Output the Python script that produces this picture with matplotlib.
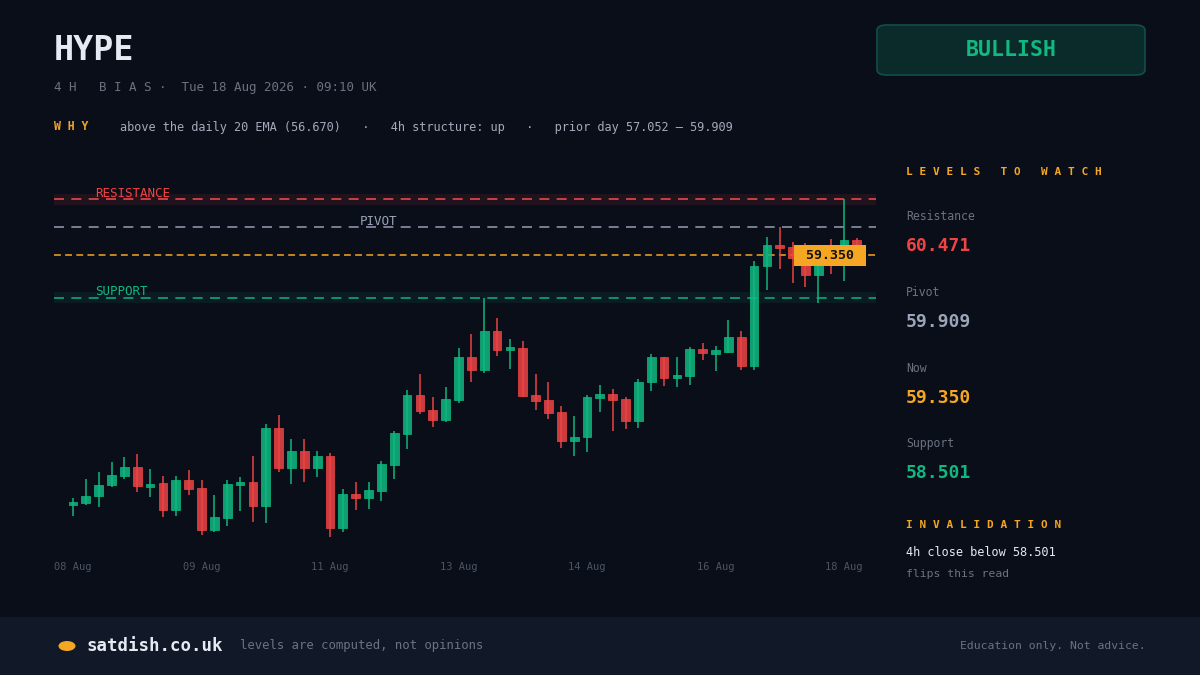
import matplotlib
matplotlib.use("Agg")
import matplotlib.pyplot as plt
from matplotlib.patches import FancyBboxPatch, Rectangle, Ellipse

plt.rcParams['font.family'] = ['DejaVu Sans Mono', 'DejaVu Sans']

# --- data (4h candles) ---
symbol = "HYPE"
bias = "BULLISH"
stamp = "Tue 18 Aug 2026 · 09:10 UK"
why = "above the daily 20 EMA (56.670)   ·   4h structure: up   ·   prior day 57.052 – 59.909"

opens = [54.371, 54.391, 54.531, 54.751, 54.931, 55.112, 54.731, 54.791, 54.251, 54.851,
         54.691, 53.850, 54.091, 54.751, 54.811, 54.331, 55.892, 55.092, 55.432, 55.092,
         55.332, 53.890, 54.571, 54.491, 54.631, 55.152, 55.772, 56.553, 56.253, 56.053,
         56.453, 57.314, 57.054, 57.834, 57.454, 57.494, 56.553, 56.453, 56.213, 55.632,
         55.712, 56.493, 56.573, 56.473, 56.033, 56.813, 57.314, 56.893, 56.933, 57.474,
         57.374, 57.414, 57.714, 57.134, 59.136, 59.556, 59.516, 59.416, 58.955, 59.516,
         59.396, 59.656]
highs = [54.491, 54.871, 55.012, 55.212, 55.312, 55.372, 55.072, 54.931, 54.931, 55.052,
         54.851, 54.551, 54.851, 54.911, 55.332, 55.973, 56.153, 55.672, 55.672, 55.432,
         55.392, 54.671, 54.811, 54.811, 55.232, 55.832, 56.653, 56.974, 56.513, 56.713,
         57.494, 57.774, 58.501, 58.095, 57.674, 57.634, 56.974, 56.813, 56.333, 56.133,
         56.553, 56.753, 56.673, 56.513, 56.873, 57.374, 57.314, 57.314, 57.514, 57.594,
         57.534, 58.055, 57.834, 59.236, 59.716, 59.917, 59.616, 59.596, 59.456, 59.676,
         60.471, 59.696]
lows = [54.131, 54.351, 54.311, 54.711, 54.871, 54.611, 54.511, 54.111, 54.131, 54.551,
        53.750, 53.810, 53.930, 54.231, 54.011, 53.991, 55.012, 54.771, 54.811, 54.911,
        53.710, 53.810, 54.251, 54.271, 54.431, 54.871, 55.472, 56.173, 55.912, 56.013,
        56.393, 56.813, 56.994, 57.334, 57.074, 56.513, 56.253, 56.073, 55.492, 55.332,
        55.412, 56.213, 55.832, 55.872, 55.892, 56.633, 56.733, 56.713, 56.753, 57.254,
        57.034, 57.394, 57.054, 57.054, 58.655, 59.076, 58.795, 58.715, 58.395, 58.976,
        58.835, 59.216]
closes = [54.391, 54.531, 54.751, 54.951, 55.112, 54.731, 54.771, 54.251, 54.851, 54.671,
          53.850, 54.111, 54.771, 54.811, 54.331, 55.892, 55.092, 55.432, 55.092, 55.332,
          53.890, 54.571, 54.491, 54.651, 55.172, 55.792, 56.553, 56.233, 56.053, 56.473,
          57.314, 57.054, 57.834, 57.454, 57.494, 56.533, 56.433, 56.193, 55.632, 55.712,
          56.513, 56.573, 56.453, 56.033, 56.813, 57.314, 56.893, 56.953, 57.474, 57.394,
          57.454, 57.714, 57.134, 59.136, 59.556, 59.496, 59.296, 58.955, 59.296, 59.396,
          59.656, 59.350]

tick_idx = [0, 10, 20, 30, 40, 50, 60]
tick_labels = ["08 Aug", "09 Aug", "11 Aug", "13 Aug", "14 Aug", "16 Aug", "18 Aug"]

resistance = 60.471
pivot = 59.909
now = 59.350
support = 58.501
invalidation = 58.501

# --- colours ---
BG = '#0a0e19'
FOOT = '#111827'
GREEN = '#10b981'
RED = '#ef4444'
ORANGE = '#f5a623'
GREY = '#6b7280'
PIVOT_C = '#9aa5b8'
WHITE = '#e6eaf2'

W, H = 1200, 675


def fx(x):
    return x / W


def fy(y):
    return 1 - y / H


fig = plt.figure(figsize=(12, 6.75), dpi=100, facecolor=BG)

# footer band
fig.patches.append(Rectangle((0, 0), 1, fy(617), transform=fig.transFigure,
                             facecolor=FOOT, edgecolor='none', zorder=0))

# --- header ---
fig.text(fx(54), fy(50), symbol, color=WHITE, fontsize=24, fontweight='bold', va='center')
fig.text(fx(54), fy(87), "4 H   B I A S ·  " + stamp, color=GREY, fontsize=9, va='center')
fig.text(fx(54), fy(127), "W H Y", color=ORANGE, fontsize=8.3, fontweight='bold', va='center')
fig.text(fx(120), fy(127), why, color='#a3abba', fontsize=8.6, va='center')

badge = FancyBboxPatch((fx(877), fy(75)), fx(268), 50 / H,
                       boxstyle='round,pad=0,rounding_size=0.008',
                       transform=fig.transFigure, facecolor='#0b2a2a',
                       edgecolor='#134e48', linewidth=1.2)
fig.patches.append(badge)
fig.text(fx(1011), fy(50), bias, color=GREEN, fontsize=15.5, fontweight='bold',
         ha='center', va='center')

# --- chart ---
ax = fig.add_axes([fx(54), fy(545), fx(822), 360 / H])
ax.set_facecolor(BG)
for s in ax.spines.values():
    s.set_visible(False)

n = len(closes)
xs = list(range(n))
ax.set_xlim(-1.48, 62.49)
ax.set_ylim(53.550, 60.757)

# level bands + lines
ax.axhspan(resistance - 0.11, resistance + 0.11, color=RED, alpha=0.1, lw=0, zorder=1)
ax.axhspan(support - 0.11, support + 0.11, color=GREEN, alpha=0.08, lw=0, zorder=1)
ax.axhline(resistance, color='#e5484d', lw=1.2, dashes=(6, 4.4), zorder=2)
ax.axhline(pivot, color='#8b93a7', lw=1.2, dashes=(6, 4.4), zorder=2)
ax.axhline(now, color=ORANGE, lw=1.1, dashes=(4.5, 2.8), zorder=2)
ax.axhline(support, color='#14a37f', lw=1.2, dashes=(6, 4.4), zorder=2)

ax.text(1.7, resistance - 0.01, "RESISTANCE", color=RED, fontsize=9, va='bottom', zorder=5)
ax.text(22.3, pivot - 0.01, "PIVOT", color=PIVOT_C, fontsize=9, va='bottom', zorder=5)
ax.text(1.7, support - 0.01, "SUPPORT", color=GREEN, fontsize=9, va='bottom', zorder=5)

# candles
for i in xs:
    o, h, l, c = opens[i], highs[i], lows[i], closes[i]
    col = GREEN if c >= o else RED
    ax.vlines(i, l, h, color=col, lw=1.2, alpha=0.9, zorder=3)
    body = max(abs(c - o), 0.06)
    bottom = min(o, c) if abs(c - o) >= 0.06 else (o + c) / 2 - 0.03
    ax.bar(i, body, bottom=bottom, width=0.68, color=col, alpha=0.85, zorder=4,
           edgecolor=col, linewidth=0.6)

# last price tag
ax.text(n - 1 - 2.1, now, " %.3f " % now, color='#111111', fontsize=9.5, fontweight='bold',
        ha='center', va='center', zorder=6,
        bbox=dict(boxstyle='square,pad=0.3', facecolor=ORANGE, edgecolor='none'))

ax.set_yticks([])
ax.set_xticks(tick_idx)
ax.set_xticklabels(tick_labels, color='#4b5563', fontsize=7.5)
ax.tick_params(axis='x', length=0, pad=12)

# --- right panel ---
px = fx(906)
fig.text(px, fy(172), "L E V E L S   T O   W A T C H", color=ORANGE, fontsize=8,
         fontweight='bold', va='center')
panel = [("Resistance", resistance, RED, 217),
         ("Pivot", pivot, PIVOT_C, 293),
         ("Now", now, ORANGE, 369),
         ("Support", support, GREEN, 444)]
for name, val, col, y in panel:
    fig.text(px, fy(y), name, color=GREY, fontsize=8.3, va='center')
    fig.text(px, fy(y + 29), "%.3f" % val, color=col, fontsize=13, fontweight='bold',
             va='center')

fig.text(px, fy(525), "I N V A L I D A T I O N", color=ORANGE, fontsize=8,
         fontweight='bold', va='center')
fig.text(px, fy(553), "4h close below %.3f" % invalidation, color=WHITE, fontsize=8.6,
         va='center')
fig.text(px, fy(574), "flips this read", color=GREY, fontsize=8.2, va='center')

# --- footer ---
fig.patches.append(Ellipse((fx(67), fy(646)), fx(17), 10 / H, transform=fig.transFigure,
                           facecolor=ORANGE, edgecolor='none'))
fig.text(fx(87), fy(646), "satdish.co.uk", color=WHITE, fontsize=12.5, fontweight='bold',
         va='center')
fig.text(fx(240), fy(646), "levels are computed, not opinions", color=GREY, fontsize=8.8,
         va='center')
fig.text(fx(1146), fy(646), "Education only. Not advice.", color=GREY, fontsize=8.2,
         ha='right', va='center')

fig.savefig("out.png", dpi=100, facecolor=BG)
